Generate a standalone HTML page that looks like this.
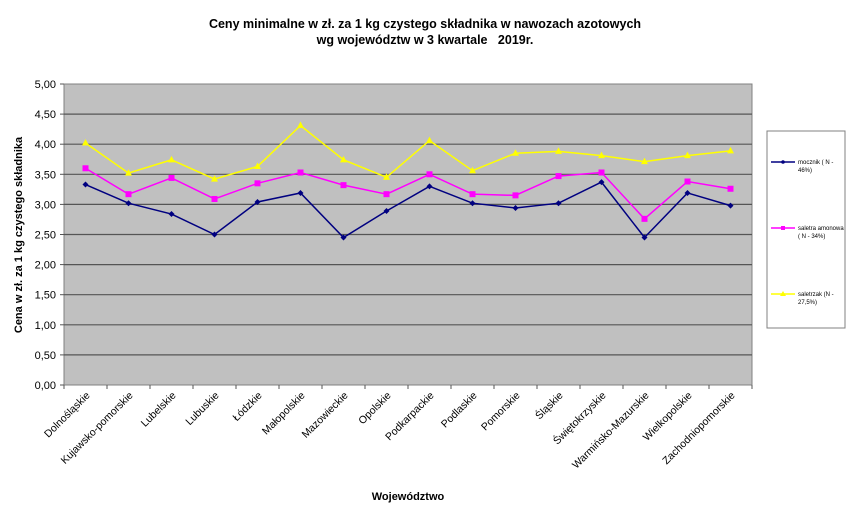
<!DOCTYPE html>
<html><head><meta charset="utf-8"><style>
body{margin:0;background:#fff;}
svg{display:block;font-family:"Liberation Sans",Arial,sans-serif;}
</style></head><body>
<svg id="c" width="850" height="518" xmlns="http://www.w3.org/2000/svg">
<rect x="0" y="0" width="850" height="518" fill="#fff"/>
<text x="425" y="28" text-anchor="middle" font-size="12.5" font-weight="bold">Ceny minimalne  w zł. za 1 kg czystego składnika w nawozach azotowych</text>
<text x="425" y="44" text-anchor="middle" font-size="12.5" font-weight="bold">wg województw w 3 kwartale&#160;&#160; 2019r.</text>
<rect x="64" y="84" width="688" height="301" fill="#c0c0c0" stroke="#808080" stroke-width="1"/>
<g id="grid"></g>
<g id="series"></g>
<text transform="translate(22,235) rotate(-90)" text-anchor="middle" font-size="11" font-weight="bold">Cena w zł. za 1 kg czystego składnika</text>
<text x="408" y="500" text-anchor="middle" font-size="11" font-weight="bold">Województwo</text>
<rect x="767" y="131" width="78" height="197" fill="#fff" stroke="#808080"/>
<line x1="771" y1="162" x2="795" y2="162" stroke="#000080" stroke-width="1.5"/><circle cx="783" cy="162" r="1.8" fill="#000080"/>
<text x="798" y="164" font-size="6">mocznik ( N -</text><text x="798" y="172" font-size="6">46%)</text>
<line x1="771" y1="228" x2="795" y2="228" stroke="#ff00ff" stroke-width="1.5"/><rect x="781" y="226" width="4" height="4" fill="#ff00ff"/>
<text x="798" y="230" font-size="6">saletra amonowa</text><text x="798" y="238" font-size="6">( N - 34%)</text>
<line x1="771" y1="294" x2="795" y2="294" stroke="#ffff00" stroke-width="1.5"/><polygon points="783,291 786,296 780,296" fill="#ffff00"/>
<text x="798" y="296" font-size="6">saletrzak (N -</text><text x="798" y="304" font-size="6">27,5%)</text>
</svg>
<script>
var ns="http://www.w3.org/2000/svg";
function el(t,a,p,txt){var e=document.createElementNS(ns,t);for(var k in a)e.setAttribute(k,a[k]);if(txt)e.textContent=txt;p.appendChild(e);return e;}
var g=document.getElementById('grid'),s=document.getElementById('series');
var L=64,T=84,B=385,W=688,step=W/16;
function Y(v){return B-v*(B-T)/5;}
for(var i=0;i<=10;i++){var v=i*0.5,y=Y(v);
 if(i>0&&i<10)el('line',{x1:L,y1:y,x2:L+W,y2:y,stroke:'#555','stroke-width':1.2},g);
 el('line',{x1:L-4,y1:y,x2:L,y2:y,stroke:'#555'},g);
 el('text',{x:L-8,y:y+4,'text-anchor':'end','font-size':11},g,v.toFixed(2).replace('.',','));}
var cats=["Dolnośląskie","Kujawsko-pomorskie","Lubelskie","Lubuskie","Łódzkie","Małopolskie","Mazowieckie","Opolskie","Podkarpackie","Podlaskie","Pomorskie","Śląskie","Świętokrzyskie","Warmińsko-Mazurskie","Wielkopolskie","Zachodniopomorskie"];
for(var i=0;i<=16;i++){var x=L+i*step;el('line',{x1:x,y1:B,x2:x,y2:B+4,stroke:'#555'},g);}
cats.forEach(function(c,i){var x=L+(i+0.5)*step+5,y=396;
 el('text',{x:x,y:y,'text-anchor':'end','font-size':10.5,transform:'rotate(-45 '+x+' '+y+')'},g,c);});
var d=[
 {c:'#000080',m:'d',v:[3.33,3.02,2.84,2.50,3.04,3.19,2.45,2.89,3.30,3.02,2.94,3.02,3.37,2.45,3.19,2.98]},
 {c:'#ff00ff',m:'s',v:[3.60,3.17,3.44,3.09,3.35,3.53,3.32,3.17,3.50,3.17,3.15,3.47,3.53,2.76,3.38,3.26]},
 {c:'#ffff00',m:'t',v:[4.02,3.52,3.74,3.42,3.63,4.31,3.74,3.45,4.06,3.56,3.85,3.88,3.81,3.71,3.81,3.89]}];
d.reverse().forEach(function(sr){
 var pts=sr.v.map(function(v,i){return [L+(i+0.5)*step,Y(v)];});
 el('polyline',{points:pts.map(function(p){return p.join(',')}).join(' '),fill:'none',stroke:sr.c,'stroke-width':1.5},s);
 pts.forEach(function(p){var x=p[0],y=p[1];
  if(sr.m=='d')el('polygon',{points:(x)+','+(y-3)+' '+(x+3)+','+y+' '+x+','+(y+3)+' '+(x-3)+','+y,fill:sr.c},s);
  else if(sr.m=='s')el('rect',{x:x-3,y:y-3,width:6,height:6,fill:sr.c},s);
  else el('polygon',{points:x+','+(y-4)+' '+(x+3.5)+','+(y+2.5)+' '+(x-3.5)+','+(y+2.5),fill:sr.c},s);});
});
</script>
</body></html>
